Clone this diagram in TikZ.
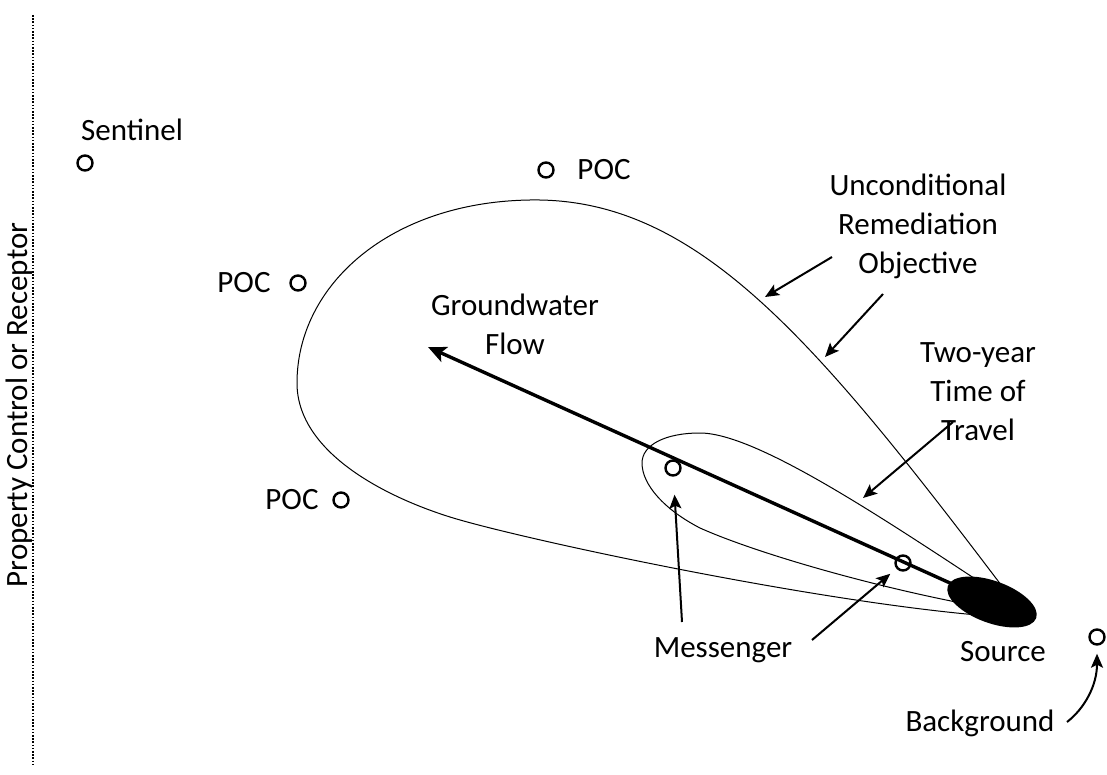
\documentclass[tikz,border=0pt]{standalone}
\usepackage{fontspec}
\setmainfont{Carlito}
\usetikzlibrary{arrows.meta}

\tikzset{
  wellpt/.style = {circle, draw, line width=1.2pt, inner sep=0pt, minimum size=7.5pt},
  lbl/.style = {align=center, inner sep=1pt, font=\fontsize{15.5}{19.5}\selectfont},
  lblarrow/.style = {-{Stealth[length=7pt,width=6pt,inset=1.5pt]}, line width=1pt},
  flowarrow/.style = {-{Stealth[length=9pt,width=8pt,inset=2pt]}, line width=1.7pt},
  contour/.style = {line width=0.5pt}
}

\begin{document}
\begin{tikzpicture}[x=0.5pt, y=-0.5pt]
		\useasboundingbox (0,0) rectangle (1107,775);
		
		% property line
		\draw[line width=1.2pt, dash pattern=on 0.8pt off 0.8pt] (33,15) -- (33,765);
		\node[lbl, rotate=90] (prop) at (19,405) {Property Control or Receptor};
		
		% plume contours (tip hidden behind source)
		\draw[contour] (1020,610) .. controls (820,345) and (700,197) .. (530,200)
			.. controls (390,202) and (297,285) .. (297,383)
			.. controls (297,450) and (380,495) .. (450,517)
			.. controls (520,539) and (850,610) .. (1020,618);
		
		\draw[contour] (1018,607) .. controls (900,530) and (760,433) .. (700,433)
			.. controls (665,433) and (642,445) .. (642,463)
			.. controls (642,485) and (665,510) .. (700,528)
			.. controls (760,555) and (900,595) .. (1018,613);
		
		% groundwater flow
		\coordinate (src) at (992,602);
		\coordinate (flowtip) at (428,347);
		\draw[flowarrow] (src) -- (flowtip);
		\node[lbl] (flow) at (515,324) {Groundwater\\Flow};
		
		% source
		\fill (src) ellipse [x radius=23.5pt, y radius=10.5pt, rotate=-20];
		\node[lbl] (srct) at (1003,652) {Source};
		
		% wells
		\node[wellpt] (sent) at (85,163) {};
		\node[lbl] (sentt) at (132,130) {Sentinel};
		\node[wellpt] (poc1) at (546,170) {};
		\node[lbl] (poc1t) at (604,170) {POC};
		\node[wellpt] (poc2) at (298,283) {};
		\node[lbl] (poc2t) at (244,283) {POC};
		\node[wellpt] (poc3) at (341,500) {};
		\node[lbl] (poc3t) at (292,500) {POC};
		\node[wellpt] (msg1) at (673,468) {};
		\node[wellpt] (msg2) at (903,563) {};
		\node[wellpt] (bg) at (1097,637) {};
		
		% labels with arrows
		\node[lbl] (uro) at (918,226) {Unconditional\\Remediation\\Objective};
		\coordinate (uroA) at (832,257);
		\coordinate (uroAt) at (765,297);
		\coordinate (uroB) at (883,294);
		\coordinate (uroBt) at (825,357);
		\draw[lblarrow] (uroA) -- (uroAt);
		\draw[lblarrow] (uroB) -- (uroBt);
		
		\node[lbl] (ttt) at (978,392) {Two-year\\Time of\\Travel};
		\coordinate (tttA) at (953,422);
		\coordinate (tttt) at (863,498);
		\draw[lblarrow] (tttA) -- (tttt);
		
		\node[lbl] (msgt) at (723,650) {Messenger};
		\coordinate (msgA) at (682,622);
		\coordinate (msgB) at (812,640);
		\draw[lblarrow, shorten >=9pt] (msgA) -- (msg1);
		\draw[lblarrow, shorten >=4pt] (msgB) -- (msg2);
		
		\node[lbl] (bgt) at (980,723) {Background};
		\coordinate (bgA) at (1067,722);
		\draw[lblarrow] (bgA) .. controls (1085,708) and (1097,685) .. ([yshift=-4pt]bg.south);
		
	\end{tikzpicture}
\end{document}
